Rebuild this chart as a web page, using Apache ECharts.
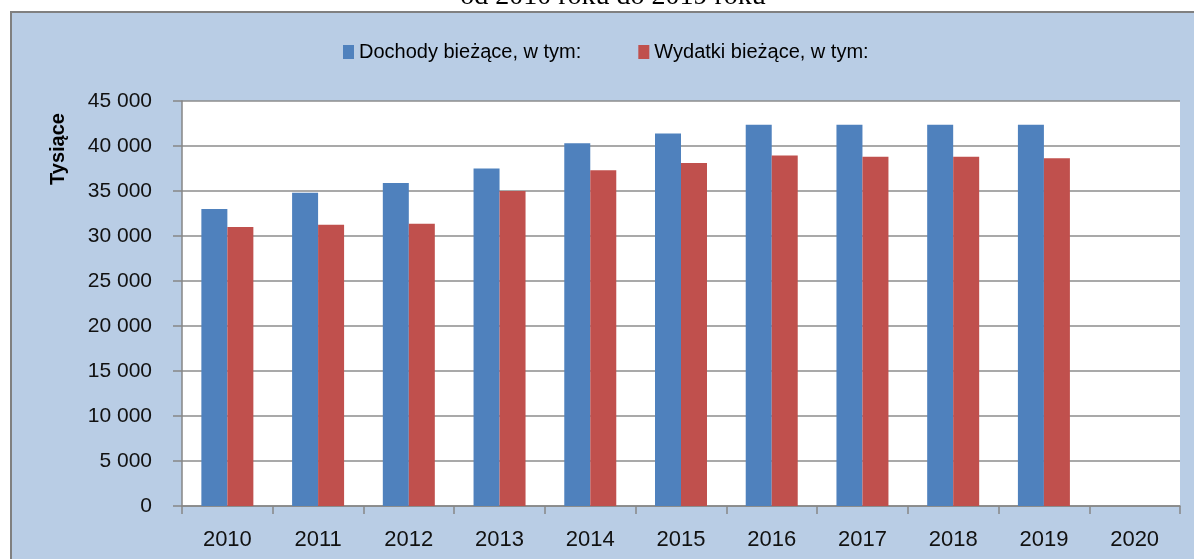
<!DOCTYPE html>
<html>
<head>
<meta charset="utf-8">
<script src="https://cdn.jsdelivr.net/npm/echarts@6/dist/echarts.min.js"></script>
<style>
	html, body { margin: 0; padding: 0; background: #fff; }
	#chart { width: 1194px; height: 559px; }
</style>
</head>
<body>
<div id="chart"></div>
<script>
const years = ['2010', '2011', '2012', '2013', '2014', '2015', '2016', '2017', '2018', '2019', '2020']
const dochody = [33000, 34800, 35900, 37500, 40300, 41400, 42350, 42350, 42350, 42350, null]
const wydatki = [31000, 31250, 31350, 35000, 37300, 38100, 38950, 38800, 38800, 38650, null]
const legendList = ['Dochody bieżące, w tym:', 'Wydatki bieżące, w tym:']
const subTitle = 'od 2010 roku do 2019 roku'
const axisName = 'Tysiące'

const charEle = document.getElementById('chart')
let myChart = echarts.init(charEle)

// spacja jako separator tysięcy
const formatNum = (v) => String(v).replace(/\B(?=(\d{3})+(?!\d))/g, ' ')

let option = {
	animation: false,
	backgroundColor: '#ffffff',
	color: ['#4F81BD', '#C0504D'],
	graphic: [
		{
			type: 'rect',
			z: -10,
			shape: { x: 11, y: 12, width: 1300, height: 700 },
			style: { fill: '#B9CDE5', stroke: '#808080', lineWidth: 2 },
		},
		{
			type: 'text',
			x: 613,
			y: -3,
			style: {
				text: subTitle,
				fill: '#000',
				font: '28px "Liberation Serif"',
				align: 'center',
				verticalAlign: 'middle',
			},
		},
		{
			type: 'text',
			x: 58,
			y: 149,
			rotation: Math.PI / 2,
			style: {
				text: axisName,
				fill: '#000',
				font: 'bold 20px "Liberation Sans"',
				align: 'center',
				verticalAlign: 'middle',
			},
		},
	],
	legend: {
		data: legendList,
		left: 338,
		top: 37,
		icon: 'rect',
		itemWidth: 11,
		itemHeight: 14,
		itemGap: 57,
		selectedMode: false,
		textStyle: {
			color: '#000',
			fontSize: 20,
			fontFamily: 'Liberation Sans',
			lineHeight: 20,
		},
	},
	grid: {
		left: 182,
		right: 14,
		top: 101,
		bottom: 53,
		show: true,
		backgroundColor: '#ffffff',
		borderWidth: 0,
		borderColor: 'rgba(0,0,0,0)',
	},
	xAxis: {
		type: 'category',
		data: years,
		axisLine: { lineStyle: { color: '#868686', width: 1.5 } },
		axisTick: { show: true, length: 8, lineStyle: { color: '#868686', width: 1.5 } },
		axisLabel: {
			color: '#111',
			fontSize: 22,
			fontFamily: 'Liberation Sans',
			margin: 23,
		},
		splitLine: { show: false },
	},
	yAxis: {
		type: 'value',
		min: 0,
		max: 45000,
		interval: 5000,
		axisLine: { show: true, lineStyle: { color: '#868686', width: 1.5 } },
		axisTick: { show: true, length: 9, lineStyle: { color: '#868686', width: 1.5 } },
		axisLabel: {
			color: '#111',
			fontSize: 21,
			fontFamily: 'Liberation Sans',
			margin: 30,
			formatter: formatNum,
		},
		splitLine: { lineStyle: { color: '#8c8c8c', width: 1.5 } },
	},
	series: [
		{
			name: legendList[0],
			type: 'bar',
			data: dochody,
			barWidth: 26,
			barGap: '0%',
		},
		{
			name: legendList[1],
			type: 'bar',
			data: wydatki,
			barWidth: 26,
			barGap: '0%',
		},
	],
}
myChart.setOption(option)
window.addEventListener('resize', () => {
	myChart.resize()
})
</script>
</body>
</html>
